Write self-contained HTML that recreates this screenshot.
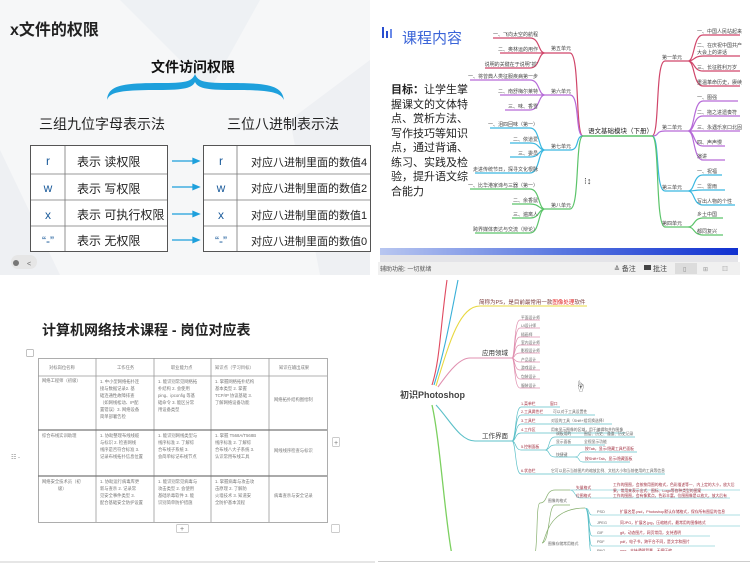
<!DOCTYPE html>
<html><head><meta charset="utf-8"><style>
html,body{margin:0;padding:0;background:#fff;width:750px;height:563px;overflow:hidden}
svg{display:block;font-family:"Liberation Sans","Noto Sans CJK SC",sans-serif}
</style></head><body>
<svg id="s" width="750" height="563" viewBox="0 0 750 563" xmlns="http://www.w3.org/2000/svg">
<!-- ===== Top-left ===== -->
<rect x="0" y="0" width="370" height="275" fill="#f6f7f8"/>
<polygon points="120,0 260,0 210,90" fill="#eef1f4"/>
<polygon points="290,120 370,60 370,275 320,275" fill="#eef0f3"/>
<polygon points="0,150 60,275 0,275" fill="#eef0f3"/>
<text x="10" y="35" font-size="16" font-weight="bold" fill="#222">x文件的权限</text>
<text x="193" y="72" font-size="14" font-weight="bold" fill="#111" text-anchor="middle">文件访问权限</text>
<path d="M107,100 C108,86 120,83 160,83 C185,83 192,82 195,74 C198,82 205,83 230,83 C270,83 282,86 284,100 C280,92 270,90 232,90 C205,90 198,88 195,82 C192,88 185,90 158,90 C120,90 110,92 107,100 Z" fill="#1ea0dc"/>
<text x="102" y="129" font-size="14" fill="#222" text-anchor="middle">三组九位字母表示法</text>
<text x="283" y="129" font-size="14" fill="#222" text-anchor="middle">三位八进制表示法</text>
<g stroke="#555" stroke-width="1" fill="#fff">
<rect x="30.5" y="145.5" width="137" height="106"/>
<rect x="203.5" y="145.5" width="167" height="106"/>
</g>
<g stroke="#777" stroke-width="0.8">
<line x1="65" y1="146" x2="65" y2="251"/><line x1="237" y1="146" x2="237" y2="251"/>
<line x1="31" y1="174" x2="167" y2="174"/><line x1="31" y1="200" x2="167" y2="200"/><line x1="31" y1="226" x2="167" y2="226"/>
<line x1="204" y1="174" x2="370" y2="174"/><line x1="204" y1="200" x2="370" y2="200"/><line x1="204" y1="226" x2="370" y2="226"/>
</g>
<g font-size="12" fill="#1a5a9a" text-anchor="middle">
<text x="48" y="165">r</text><text x="48" y="192">w</text><text x="48" y="219">x</text><text x="48" y="245">“-”</text>
<text x="221" y="165">r</text><text x="221" y="192">w</text><text x="221" y="219">x</text><text x="221" y="245">“-”</text>
</g>
<g font-size="12" fill="#222">
<text x="77" y="166">表示 读权限</text><text x="77" y="193">表示 写权限</text><text x="77" y="219">表示 可执行权限</text><text x="77" y="245">表示 无权限</text>
<text x="251" y="166" font-size="11">对应八进制里面的数值4</text><text x="251" y="192" font-size="11">对应八进制里面的数值2</text><text x="251" y="219" font-size="11">对应八进制里面的数值1</text><text x="251" y="245" font-size="11">对应八进制里面的数值0</text>
</g>
<g stroke="#1ea0dc" stroke-width="1.3" fill="#1ea0dc">
<line x1="172" y1="161" x2="195" y2="161"/><polygon points="199,161 193,158.5 193,163.5"/>
<line x1="172" y1="187" x2="195" y2="187"/><polygon points="199,187 193,184.5 193,189.5"/>
<line x1="172" y1="214" x2="195" y2="214"/><polygon points="199,214 193,211.5 193,216.5"/>
<line x1="172" y1="240" x2="195" y2="240"/><polygon points="199,240 193,237.5 193,242.5"/>
</g>
<rect x="11" y="255" width="26" height="14" rx="7" fill="#e6e6e6"/>
<circle cx="16" cy="263" r="3" fill="#777"/><text x="27" y="266" font-size="7" fill="#666">&lt;</text>

<!-- ===== Top-right ===== -->
<rect x="378" y="0" width="362" height="247" fill="#fff"/>
<rect x="382" y="27" width="2" height="11" fill="#2a4fd0"/><rect x="386" y="31" width="2" height="7" fill="#2a4fd0"/><rect x="390" y="29" width="2" height="9" fill="#6a8ae8"/>
<text x="402" y="43" font-size="15" fill="#3a64d8">课程内容</text>
<g font-size="11" fill="#222">
<text x="391" y="93"><tspan font-weight="bold">目标：</tspan>让学生掌</text>
<text x="391" y="108">握课文的文体特</text>
<text x="391" y="122">点、赏析方法、</text>
<text x="391" y="137">写作技巧等知识</text>
<text x="391" y="151">点，通过背诵、</text>
<text x="391" y="166">练习、实践及检</text>
<text x="391" y="180">验，提升语文综</text>
<text x="391" y="195">合能力</text>
</g>
<line x1="583" y1="136" x2="652" y2="136" stroke="#5cc46a" stroke-width="1.5"/>
<text x="588" y="133" font-size="6.5" fill="#222">语文基础模块（下册）</text>
<g fill="none" stroke-width="1.2">
<path d="M583,136 C575,136 580,53 570,53 L545,53" stroke="#d0466a"/>
<path d="M583,136 C575,136 580,95 570,95 L545,95" stroke="#b66ad8"/>
<path d="M583,136 C575,136 580,150 570,150 L545,150" stroke="#3ab8e0"/>
<path d="M583,136 C575,136 580,209 570,209 L545,209" stroke="#5cc46a"/>
<path d="M545,53 C538,53 540,38 530,38 L493,38 M545,53 C538,53 540,53 530,53 L500,53 M545,53 C538,53 540,68 530,68 L485,68" stroke="#d0466a"/>
<path d="M545,95 C538,95 540,80 530,80 L470,80 M545,95 L500,95 M545,95 C538,95 540,110 530,110 L505,110" stroke="#b66ad8"/>
<path d="M545,150 C538,150 540,128 530,128 L490,128 M545,150 C538,150 540,143 530,143 L510,143 M545,150 C538,150 540,157 530,157 L510,157 M545,150 C538,150 540,173 530,173 L475,173" stroke="#3ab8e0"/>
<path d="M545,209 C538,209 540,189 530,189 L470,189 M545,209 C538,209 540,204 530,204 L512,204 M545,209 C538,209 540,218 530,218 L512,218 M545,209 C538,209 540,233 530,233 L475,233" stroke="#5cc46a"/>
<path d="M652,136 C660,136 655,61 665,61 L688,61" stroke="#d0466a"/>
<path d="M652,136 C660,136 655,131 665,131 L688,131" stroke="#b66ad8"/>
<path d="M652,136 C660,136 655,191 665,191 L688,191" stroke="#3ab8e0"/>
<path d="M652,136 C660,136 655,227 665,227 L688,227" stroke="#5cc46a"/>
<path d="M688,61 C695,61 693,35 703,35 L740,35 M688,61 C695,61 693,56 703,56 L740,56 M688,61 C695,61 693,71 703,71 L740,71 M688,61 C695,61 693,86 703,86 L740,86" stroke="#d0466a"/>
<path d="M688,131 C695,131 693,101 703,101 L738,101 M688,131 C695,131 693,116 703,116 L740,116 M688,131 C695,131 693,131 703,131 L740,131 M688,131 C695,131 693,146 703,146 L725,146 M688,131 C695,131 693,160 703,160 L725,160" stroke="#b66ad8"/>
<path d="M688,191 C695,191 693,175 703,175 L722,175 M688,191 C695,191 693,190 703,190 L725,190 M688,191 C695,191 693,205 703,205 L735,205" stroke="#3ab8e0"/>
<path d="M688,227 C695,227 693,218 703,218 L723,218 M688,227 C695,227 693,235 703,235 L723,235" stroke="#5cc46a"/>
</g>
<g font-size="5" fill="#444">
<text x="551" y="50">第五单元</text><text x="551" y="93">第六单元</text><text x="551" y="148">第七单元</text><text x="551" y="207">第八单元</text>
<text x="662" y="59">第一单元</text><text x="662" y="129">第二单元</text><text x="662" y="189">第三单元</text><text x="662" y="225">第四单元</text>
<g text-anchor="end">
<text x="538" y="36">一、飞向太空的航程</text><text x="538" y="51">二、奥林运的用作</text><text x="538" y="66">说明的关键在于说明“抓”</text>
<text x="538" y="78">一、将曾典人类征服疾病第一步</text><text x="538" y="93">二、南舒梅尔莱特</text><text x="538" y="108">三、味、香雪</text>
<text x="538" y="126">一、泪四回味（第一）</text><text x="538" y="141">二、依道爱</text><text x="538" y="155">三、委员</text><text x="538" y="171">走进传统节日，探寻文化根脉</text>
<text x="538" y="187">一、比华港家谛与三器（第一）</text><text x="538" y="202">二、余香鼠</text><text x="538" y="216">三、遍离人</text><text x="538" y="231">跨界媒体表达与交流（辩论）</text>
</g>
<text x="697" y="33">一、中国人民站起来</text><text x="697" y="47">二、在庆祝中国共产</text><text x="697" y="54">大会上的讲话</text><text x="697" y="69">三、长征胜利万岁</text><text x="697" y="84">重温革命历史，赓续</text>
<text x="697" y="99">一、图强</text><text x="697" y="114">二、拖之进遗奏符</text><text x="697" y="129">三、永遇乐京口北固</text><text x="697" y="144">四、声声慢</text><text x="697" y="158">演讲</text>
<text x="697" y="173">一、祝福</text><text x="697" y="188">二、雷雨</text><text x="697" y="203">写出人物的个性</text>
<text x="697" y="216">乡土中国</text><text x="697" y="233">都同复兴</text>
</g>
<text x="584" y="184" font-size="9" fill="#333">⁝↕</text>
<defs><linearGradient id="bar" x1="0" x2="1"><stop offset="0" stop-color="#b8c6f0"/><stop offset="0.5" stop-color="#5a78e0"/><stop offset="1" stop-color="#1030d0"/></linearGradient></defs>
<rect x="380" y="248" width="358" height="7" fill="url(#bar)"/>
<rect x="380" y="255" width="358" height="7" fill="#e4e4e8"/>
<rect x="378" y="262" width="362" height="13" fill="#f0f0f0"/>
<text x="380" y="271" font-size="6" fill="#555">辅助功能: 一切就绪</text>
<text x="614" y="271" font-size="7" fill="#444">≙ 备注</text>
<rect x="644" y="265" width="7" height="5" fill="#444"/><text x="653" y="271" font-size="7" fill="#444">批注</text>
<rect x="675" y="263" width="22" height="11" fill="#dcdcdc"/>
<text x="683" y="271" font-size="6" fill="#888">▯</text><text x="703" y="271" font-size="6" fill="#999">⊞</text><text x="722" y="271" font-size="6" fill="#999">▥</text>

<!-- ===== Bottom-left ===== -->
<text x="42" y="335" font-size="14" font-weight="bold" fill="#222">计算机网络技术课程 - 岗位对应表</text>
<rect x="26.5" y="349.5" width="7" height="7" rx="1" fill="none" stroke="#aaa" stroke-width="0.7"/>
<g fill="none" stroke="#999" stroke-width="0.8">
<rect x="38.5" y="358.5" width="289" height="164"/>
<line x1="96" y1="358" x2="96" y2="522"/><line x1="154" y1="358" x2="154" y2="522"/><line x1="211" y1="358" x2="211" y2="522"/><line x1="269" y1="358" x2="269" y2="522"/>
<line x1="38" y1="376" x2="327" y2="376"/><line x1="38" y1="430" x2="327" y2="430" stroke="#777" stroke-width="1.2"/><line x1="38" y1="476" x2="327" y2="476" stroke="#777" stroke-width="1.2"/>
</g>
<g font-size="4.3" fill="#777">
<text x="49" y="369">对标岗位名称</text><text x="117" y="369">工作任务</text><text x="171" y="369">职业能力点</text><text x="215" y="369">知识点（学习目标）</text><text x="279" y="369">知识在输出成果</text>
<text x="42" y="382">网络工程师（初级）</text>
<text x="100" y="383">1. 中小型网络拓扑连</text><text x="100" y="390">接与数据记录2. 基</text><text x="100" y="397">础连通性故障排查</text><text x="100" y="404">（如网线松动、IP配</text><text x="100" y="411">置错误）3. 网络设备</text><text x="100" y="418">简单部署告检</text>
<text x="158" y="383">1. 能识别常见网络拓</text><text x="158" y="390">扑结构 2. 会使用</text><text x="158" y="397">ping、ipconfig 等基</text><text x="158" y="404">础命令 3. 能区分常</text><text x="158" y="411">用设备类型</text>
<text x="215" y="383">1. 掌握网络拓扑结构</text><text x="215" y="390">基本类型 2. 掌握</text><text x="215" y="397">TCP/IP 协议基础 3.</text><text x="215" y="404">了解网络设备功能</text>
<text x="274" y="401">网络拓扑结构图绘制</text>
<text x="42" y="437">综合布线实训助理</text>
<text x="100" y="437">1. 协助整理布线线缆</text><text x="100" y="444">与标识 2. 检查网线</text><text x="100" y="451">线序是否符合标准 3.</text><text x="100" y="458">记录布线拓扑信息位置</text>
<text x="158" y="437">1. 能识别网线类型与</text><text x="158" y="444">线序标准 2. 了解综</text><text x="158" y="451">合布线子系统 3.</text><text x="158" y="458">会简单标记布线节点</text>
<text x="215" y="437">1. 掌握 T568A/T568B</text><text x="215" y="444">线序标准 2. 了解综</text><text x="215" y="451">合布线八大子系统 3.</text><text x="215" y="458">认识常用布线工具</text>
<text x="274" y="452">网线线序检查与标识</text>
<text x="42" y="483">网络安全技术员（初</text><text x="58" y="490">级）</text>
<text x="100" y="483">1. 协助运行病毒库更</text><text x="100" y="490">新与查杀 2. 记录常</text><text x="100" y="497">见安全事件类型 3.</text><text x="100" y="504">配合基础安全防护设置</text>
<text x="158" y="483">1. 能识别常见病毒与</text><text x="158" y="490">攻击类型 2. 会使用</text><text x="158" y="497">基础杀毒软件 3. 能</text><text x="158" y="504">识别简单防护措施</text>
<text x="215" y="483">1. 掌握病毒与攻击攻</text><text x="215" y="490">击原理 2. 了解防</text><text x="215" y="497">火墙技术 3. 知道安</text><text x="215" y="504">全防护基本流程</text>
<text x="274" y="497">病毒查杀与安全记录</text>
</g>
<text x="11" y="459" font-size="6" fill="#888">☷ -</text>
<rect x="332.5" y="437.5" width="7" height="9" rx="1" fill="#fff" stroke="#bbb" stroke-width="0.7"/><text x="334" y="445" font-size="7" fill="#777">+</text>
<rect x="176.5" y="524.5" width="12" height="8" rx="1" fill="#fff" stroke="#bbb" stroke-width="0.7"/><text x="180" y="531" font-size="7" fill="#777">+</text>
<rect x="331.5" y="524.5" width="8" height="8" rx="1" fill="#fff" stroke="#bbb" stroke-width="0.7"/>
<line x1="0" y1="562" x2="375" y2="562" stroke="#ccc"/>

<!-- ===== Bottom-right ===== -->
<g fill="none" stroke-width="1.1">
<path d="M432,385 C440,360 440,330 447,280" stroke="#e04a60"/>
<path d="M434,385 C445,350 450,320 458,280" stroke="#3ab0d8"/>
<path d="M436,386 C450,340 460,306 480,306 L587,306" stroke="#e8d840"/>
<path d="M438,387 C450,370 460,358 470,358 L512,358" stroke="#e090b0"/>
<path d="M512,358 C515,358 514,320 520,320 L540,320 M512,358 C515,358 514,328 520,328 L540,328 M512,358 C515,358 514,337 520,337 L540,337 M512,358 C515,358 514,345 520,345 L540,345 M512,358 C515,358 514,353 520,353 L540,353 M512,358 C515,358 514,362 520,362 L540,362 M512,358 C515,358 514,370 520,370 L540,370 M512,358 C515,358 514,379 520,379 L540,379 M512,358 C515,358 514,388 520,388 L540,388" stroke="#e090b0" stroke-width="0.7"/>
<path d="M436,405 C450,420 460,441 475,441 L512,441" stroke="#5cc0c8"/>
<path d="M512,441 C516,441 515,407 521,407 L560,407 M512,441 C516,441 515,415 521,415 L595,415 M512,441 C516,441 515,424 521,424 L612,424 M512,441 C516,441 515,433 521,433 L625,433 M512,441 C516,441 515,450 521,450 L545,450 M512,441 C516,441 515,474 521,474 L665,474" stroke="#5cc0c8" stroke-width="0.7"/>
<path d="M545,450 C550,450 548,437 555,437 L635,437 M545,450 C550,450 548,445 555,445 L605,445 M545,450 C550,450 548,457 555,457 L575,457 M575,457 C580,457 578,452 583,452 L637,452 M575,457 C580,457 578,462 583,462 L630,462" stroke="#5cc0c8" stroke-width="0.7"/>
<path d="M432,405 C440,440 445,520 452,555" stroke="#7cd060" stroke-width="1.3"/>
<path d="M540,503 C548,503 545,490 555,490 L570,490 M542,543 C550,543 548,505 555,505 L570,505" stroke="#88b070" stroke-width="0.7"/>
<path d="M540,503 C536,503 538,540 535,555 M542,543 C546,543 545,508 585,508" stroke="#88b070" stroke-width="0.7"/>
<path d="M570,490 C575,490 575,490 580,490 L740,490 M570,490 C575,490 575,498 580,498 L730,498" stroke="#5cc0c8" stroke-width="0.6"/>
<path d="M585,508 C590,508 588,515 592,515 L740,515 M585,508 C590,508 588,526 592,526 L740,526 M585,508 C590,508 588,536 592,536 L710,536 M585,508 C590,508 588,546 592,546 L715,546 M585,508 C590,508 588,555 592,555 L720,555" stroke="#5cc0c8" stroke-width="0.6"/>
</g>
<text x="400" y="398" font-size="9" font-weight="bold" fill="#444">初识Photoshop</text>
<text x="479" y="304" font-size="5.5" fill="#7a3a3a">简称为PS，是目前最常用一款<tspan fill="#e02020">图像处理</tspan>软件</text>
<text x="482" y="355" font-size="6.5" fill="#333">应用领域</text>
<text x="482" y="438" font-size="6.5" fill="#333">工作界面</text>
<g font-size="3.8" fill="#666">
<text x="521" y="319">平面设计师</text><text x="521" y="327">UI设计师</text><text x="521" y="336">插画师</text><text x="521" y="344">室内设计师</text><text x="521" y="352">影视设计师</text><text x="521" y="361">产品设计</text><text x="521" y="369">游戏设计</text><text x="521" y="378">包装设计</text><text x="521" y="387">服装设计</text>
</g>
<g font-size="3.8" fill="#a03040">
<text x="521" y="405">1.菜单栏</text><text x="550" y="405">窗口</text>
<text x="521" y="413">2.工具属性栏</text><text x="553" y="413" fill="#666">可以对于工具设置性</text>
<text x="521" y="422">3.工具栏</text><text x="551" y="422" fill="#666">对设的工具（Shift+组切换选择）</text>
<text x="521" y="431">4.工作区</text><text x="551" y="431" fill="#666">用来显示图像的区域，用于编辑和共作图像</text>
<text x="521" y="448">5.控制面板</text><text x="556" y="435" fill="#666">调板用的</text><text x="584" y="435" fill="#666">图层、历史、通道、历史记录</text>
<text x="556" y="443" fill="#666">显示面板</text><text x="584" y="443" fill="#666">全视显示功能</text>
<text x="556" y="456" fill="#666">快捷键</text><text x="585" y="450">按Tab，显示/隐藏工具栏面板</text><text x="585" y="460">按Shift+Tab，显示/隐藏面板</text>
<text x="521" y="472">6.状态栏</text><text x="551" y="472" fill="#666">它可以显示当前图片的缩放比例、文档大小和当前使用的工具等信息</text>
<text x="548" y="502" fill="#666">图像的格式</text><text x="576" y="489">矢量格式</text><text x="613" y="486">工作的图图，会按按用图的格式，色彩描述等一、内上定的大小，放大后</text><text x="613" y="492">果，常用来表示出式、图标、Logo等各种类型的图案</text>
<text x="576" y="497">位图格式</text><text x="613" y="497">工作的图图，会有像素点，色彩丰富，位图图像是以放大，放大后有</text>
<text x="548" y="545" fill="#666">图像存储常用格式</text>
<text x="597" y="513" fill="#666">PSD</text><text x="620" y="513">扩展名是.psd，Photoshop默认存储格式，保存所有图层的信息</text>
<text x="597" y="524" fill="#666">JPEG</text><text x="620" y="524">同JPG，扩展名.jpg，压缩格式，最常用的图像格式</text>
<text x="597" y="534" fill="#666">GIF</text><text x="620" y="534">gif，动态图片，网页常用，支持透明</text>
<text x="597" y="543" fill="#666">PDF</text><text x="620" y="543">pdf，电子书，跨平台不同，是文字和图片</text>
<text x="597" y="552" fill="#666">PNG</text><text x="620" y="552">png，支持透明背景，无损压缩</text>
</g>
<text x="575" y="390" font-size="11" fill="#555">☝</text>
<rect x="378" y="551" width="372" height="12" fill="#fff"/>
<line x1="378" y1="561.5" x2="750" y2="561.5" stroke="#ccc"/>
</svg>
<script>
(function(){
  var texts=document.querySelectorAll('#s text');
  for(var i=0;i<texts.length;i++){
    var t=texts[i],fs=null,n=t;
    while(n&&n.getAttribute){var a=n.getAttribute('font-size');if(a){fs=parseFloat(a);break;}n=n.parentNode;}
    if(!fs||fs>=9)continue;
    var k=fs/12;
    var x=parseFloat(t.getAttribute('x')||0),y=parseFloat(t.getAttribute('y')||0);
    t.setAttribute('x',0);t.setAttribute('y',0);
    t.setAttribute('font-size',12);
    t.setAttribute('transform','translate('+x+','+y+') scale('+k+')');
  }
})();
</script>
</body></html>
